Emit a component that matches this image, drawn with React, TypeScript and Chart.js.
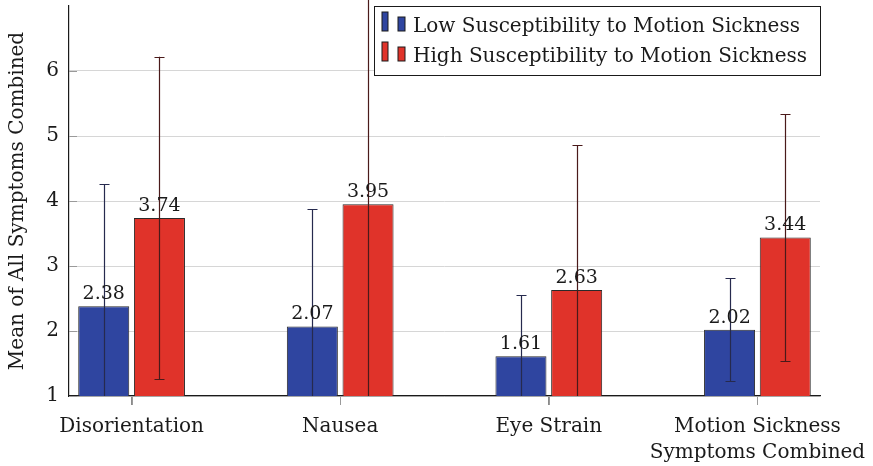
import React, { useEffect, useRef } from "react";
import { Chart, registerables } from "chart.js";

Chart.register(...registerables);

const categories: (string | string[])[] = [
  "Disorientation",
  "Nausea",
  "Eye Strain",
  ["Motion Sickness", "Symptoms Combined"],
];
const lowLabel = "Low Susceptibility to Motion Sickness";
const highLabel = "High Susceptibility to Motion Sickness";
const lowMeans = [2.38, 2.07, 1.61, 2.02];
const highMeans = [3.74, 3.95, 2.63, 3.44];
const lowSD = [1.88, 1.8, 0.94, 0.79];
const highSD = [2.48, 3.3, 2.23, 1.9];
const yTicks = [1, 2, 3, 4, 5, 6];

const FONT = "'DejaVu Serif', 'Liberation Serif', serif";
const BLUE = "#2f45a0";
const RED = "#e0332a";
const BAR_EDGE = "#2a2a2a";
const LOW_ERR = "#262a4e";
const HIGH_ERR = "#4a1a1a";

// Error whiskers, value labels and axis tick marks
const barExtras = {
  id: "barExtras",
  afterDatasetsDraw(chart: any) {
    const { ctx, chartArea, scales } = chart;
    const y = scales.y;
    const x = scales.x;
    const sets = [
      { means: lowMeans, sd: lowSD, color: LOW_ERR },
      { means: highMeans, sd: highSD, color: HIGH_ERR },
    ];
    sets.forEach((s, di) => {
      const meta = chart.getDatasetMeta(di);
      meta.data.forEach((bar: any, i: number) => {
        const px = Math.round(bar.x) + 0.5;
        const topV = y.getPixelForValue(s.means[i] + s.sd[i]);
        const botV = y.getPixelForValue(s.means[i] - s.sd[i]);
        const top = Math.max(0, topV);
        const bot = Math.min(chartArea.bottom, botV);
        ctx.save();
        ctx.strokeStyle = s.color;
        ctx.lineWidth = 1.2;
        ctx.beginPath();
        ctx.moveTo(px, top);
        ctx.lineTo(px, bot);
        if (topV >= 0) {
          ctx.moveTo(px - 5, Math.round(topV) + 0.5);
          ctx.lineTo(px + 5, Math.round(topV) + 0.5);
        }
        if (botV <= chartArea.bottom) {
          ctx.moveTo(px - 5, Math.round(botV) + 0.5);
          ctx.lineTo(px + 5, Math.round(botV) + 0.5);
        }
        ctx.stroke();
        ctx.restore();
      });
    });
    sets.forEach((s, di) => {
      const meta = chart.getDatasetMeta(di);
      meta.data.forEach((bar: any, i: number) => {
        ctx.save();
        ctx.fillStyle = "#1a1a1a";
        ctx.font = `19px ${FONT}`;
        ctx.textAlign = "center";
        ctx.textBaseline = "alphabetic";
        ctx.fillText(s.means[i].toFixed(2), bar.x, bar.y - 7);
        ctx.restore();
      });
    });

    ctx.save();
    ctx.strokeStyle = "#9a9a9a";
    ctx.lineWidth = 1;
    // inward tick marks on the y axis
    yTicks.forEach((v) => {
      const py = Math.round(y.getPixelForValue(v)) + 0.5;
      ctx.beginPath();
      ctx.moveTo(chartArea.left, py);
      ctx.lineTo(chartArea.left + 8, py);
      ctx.stroke();
    });
    // category tick marks below the x axis
    categories.forEach((_, i) => {
      const px = Math.round(x.getPixelForValue(i)) + 0.5;
      ctx.beginPath();
      ctx.moveTo(px, chartArea.bottom + 1);
      ctx.lineTo(px, chartArea.bottom + 9);
      ctx.stroke();
    });
    ctx.restore();
  },
  afterDraw(chart: any) {
    const { ctx } = chart;
    // legend box
    const bx = 374.5, by = 6.5, bw = 446, bh = 69;
    ctx.save();
    ctx.fillStyle = "#ffffff";
    ctx.fillRect(bx, by, bw, bh);
    ctx.strokeStyle = "#1a1a1a";
    ctx.lineWidth = 1;
    ctx.strokeRect(bx, by, bw, bh);
    const rows = [
      { color: BLUE, text: lowLabel, base: 32 },
      { color: RED, text: highLabel, base: 62 },
    ];
    rows.forEach((r) => {
      const bottom = r.base - 1;
      ctx.fillStyle = r.color;
      ctx.strokeStyle = "#1a1a1a";
      ctx.fillRect(382, bottom - 19, 6, 19);
      ctx.strokeRect(382, bottom - 19, 6, 19);
      ctx.fillRect(398, bottom - 14, 7, 14);
      ctx.strokeRect(398, bottom - 14, 7, 14);
      ctx.fillStyle = "#1a1a1a";
      ctx.font = `20px ${FONT}`;
      ctx.textAlign = "left";
      ctx.textBaseline = "alphabetic";
      ctx.fillText(r.text, 413, r.base);
    });
    ctx.restore();
  },
};

export default function App() {
  const ref = useRef<HTMLCanvasElement>(null);

  useEffect(() => {
    if (!ref.current) return;
    const chart = new Chart(ref.current, {
      type: "bar",
      data: {
        datasets: [
          {
            label: lowLabel,
            data: lowMeans.map((v, i) => ({ x: i, y: v })),
            backgroundColor: BLUE,
            borderColor: BAR_EDGE,
            borderWidth: 1,
          },
          {
            label: highLabel,
            data: highMeans.map((v, i) => ({ x: i, y: v })),
            backgroundColor: RED,
            borderColor: BAR_EDGE,
            borderWidth: 1,
          },
        ],
      },
      options: {
        responsive: false,
        animation: false,
        devicePixelRatio: 1,
        categoryPercentage: 0.534,
        barPercentage: 0.916,
        layout: { padding: { top: 6, right: 53, left: 0, bottom: 0 } },
        plugins: {
          legend: { display: false },
          tooltip: { enabled: false },
        },
        scales: {
          x: {
            type: "linear",
            offset: false,
            min: -0.3,
            max: 3.3,
            afterBuildTicks: (axis: any) => {
              axis.ticks = categories.map((_, i) => ({ value: i }));
            },
            afterFit: (scale: any) => {
              scale.height = 70;
              scale.paddingLeft = 0;
              scale.paddingRight = 0;
            },
            grid: {
              display: true,
              offset: false,
              drawOnChartArea: false,
              drawTicks: true,
              tickLength: 9,
              color: "#8a8a8a",
            },
            border: { display: true, color: "#1a1a1a", width: 1.2 },
            ticks: {
              autoSkip: false,
              maxRotation: 0,
              padding: 9,
              color: "#1a1a1a",
              font: { family: FONT, size: 20, lineHeight: 1.3 },
              callback: (v: any) => categories[Number(v)] as any,
            },
          },
          y: {
            min: 1,
            max: 7,
            afterFit: (scale: any) => {
              scale.width = 69;
              scale.paddingTop = 0;
              scale.paddingBottom = 0;
            },
            grid: {
              color: "#d6d6d6",
              drawTicks: false,
            },
            border: { display: true, color: "#1a1a1a", width: 1.2 },
            ticks: {
              stepSize: 1,
              padding: 10,
              color: "#1a1a1a",
              font: { family: FONT, size: 20 },
              callback: (v: any) => (yTicks.includes(Number(v)) ? String(v) : null),
            },
            title: {
              display: true,
              text: "Mean of All Symptoms Combined",
              color: "#1a1a1a",
              font: { family: FONT, size: 20 },
              padding: { top: 6, bottom: 0 },
            },
          },
        },
      },
      plugins: [barExtras],
    });
    return () => chart.destroy();
  }, []);

  return (
    <div style={{ position: "fixed", left: 0, top: 0, width: 873, height: 466, background: "#fff" }}>
      <canvas ref={ref} width={873} height={466} />
    </div>
  );
}
